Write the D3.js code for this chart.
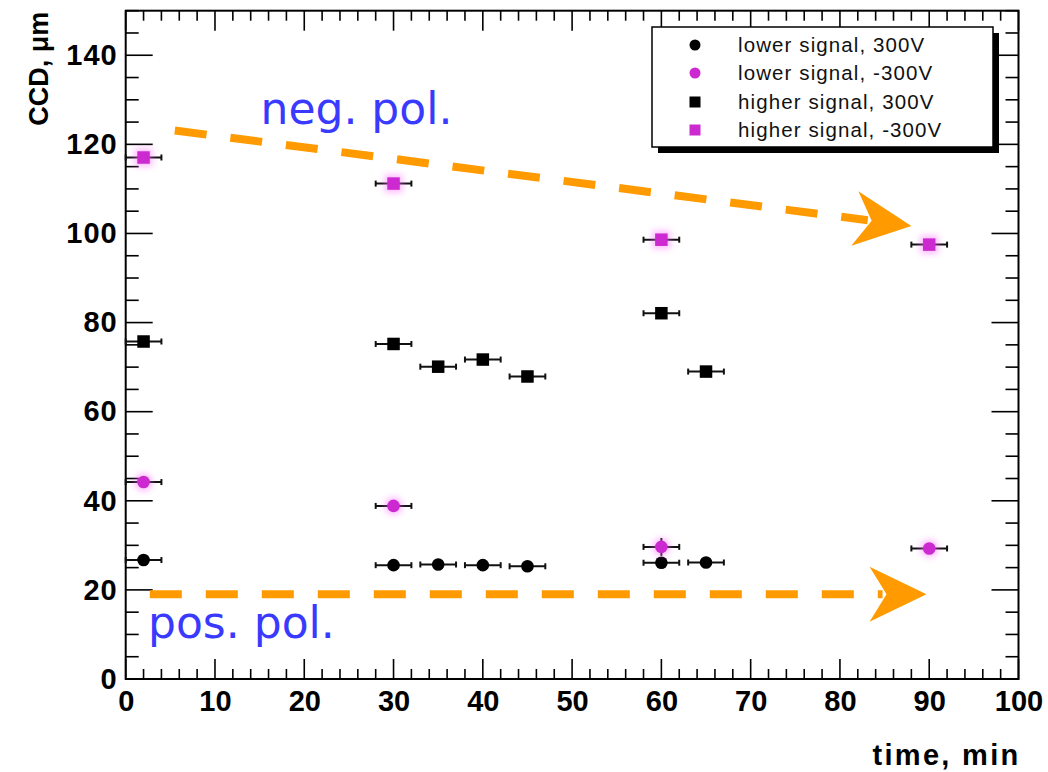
<!DOCTYPE html>
<html><head><meta charset="utf-8">
<script src="https://cdn.jsdelivr.net/npm/d3@7"></script>
<style>
html,body{margin:0;padding:0;background:#fff;}
svg{display:block;}
</style></head>
<body>
<svg id="chart" width="1048" height="772"></svg>
<script>
// ---- data ----
const xTicks = [0,10,20,30,40,50,60,70,80,90,100];
const yTicks = [0,20,40,60,80,100,120,140];
const xLabel = "time, min";
const yLabel = "CCD, \u03bcm";

const timeLow300 = [2,30,35,40,45,60,65];
const ccdLow300  = [26.7,25.55,25.7,25.55,25.3,26.1,26.15];
const timeLowNeg = [2,30,60,90];
const ccdLowNeg  = [44.2,38.85,29.65,29.3];
const yErrLowNeg = [0.5,0.5,2,0.5];
const timeHigh300 = [2,30,35,40,45,60,65];
const ccdHigh300  = [75.75,75.2,70.1,71.7,67.9,82.1,69.0];
const timeHighNeg = [2,30,60,90];
const ccdHighNeg  = [117.05,111.2,98.6,97.5];
const timeErr = 2;

const legendLabels = ["lower signal, 300V","lower signal, -300V","higher signal, 300V","higher signal, -300V"];

// annotations (data units)
const arrowNeg = [[5.5,123.1],[88.0,101.7]];
const arrowPos = [[2.7,19.05],[89.7,19.05]];
const textNeg = {label:"neg. pol.", t:15.1, v:124.6};
const textPos = {label:"pos. pol.", t:2.5, v:9.2};

// ---- layout ----
const svg = d3.select("#chart");
const L = 125.7, R = 1018.5, T = 10.7, B = 679;
const x = d3.scaleLinear().domain([0,100]).range([L,R]);
const y = d3.scaleLinear().domain([0,150]).range([B,T]);
const MAG = "#cc2ad0";
const ORANGE = "#ff9a00";
const BLUE = "#3a3aff";

svg.append("rect").attr("x",L).attr("y",T).attr("width",R-L).attr("height",B-T).attr("fill","#fff");

// ticks
const g = svg.append("g").attr("stroke","#000").attr("stroke-width",1.6);
const xMinor = d3.range(0,101,2).filter(d=>d%10!==0);
const yMinor = d3.range(0,151,5).filter(d=>d%20!==0);
xTicks.forEach(d=>{
  g.append("line").attr("x1",x(d)).attr("x2",x(d)).attr("y1",B).attr("y2",B-20);
  g.append("line").attr("x1",x(d)).attr("x2",x(d)).attr("y1",T).attr("y2",T+20);
});
xMinor.forEach(d=>{
  g.append("line").attr("x1",x(d)).attr("x2",x(d)).attr("y1",B).attr("y2",B-10);
  g.append("line").attr("x1",x(d)).attr("x2",x(d)).attr("y1",T).attr("y2",T+10);
});
yTicks.forEach(d=>{
  g.append("line").attr("y1",y(d)).attr("y2",y(d)).attr("x1",L).attr("x2",L+27);
  g.append("line").attr("y1",y(d)).attr("y2",y(d)).attr("x1",R).attr("x2",R-27);
});
yMinor.forEach(d=>{
  g.append("line").attr("y1",y(d)).attr("y2",y(d)).attr("x1",L).attr("x2",L+13);
  g.append("line").attr("y1",y(d)).attr("y2",y(d)).attr("x1",R).attr("x2",R-13);
});

// tick labels via d3 axes
const xAxis = svg.append("g").attr("transform",`translate(0,${B})`)
  .call(d3.axisBottom(x).tickValues(xTicks).tickSize(0).tickPadding(32).tickFormat(d3.format("d")));
const yAxis = svg.append("g").attr("transform",`translate(${L},0)`)
  .call(d3.axisLeft(y).tickValues(yTicks).tickSize(0).tickPadding(8).tickFormat(d3.format("d")));
[xAxis,yAxis].forEach(a=>{
  a.select(".domain").remove();
  a.selectAll("text").attr("font-family","Liberation Sans, Arial, sans-serif")
   .attr("font-weight","bold").attr("font-size",29).attr("fill","#000");
});
xAxis.selectAll("text").attr("dy",0).attr("y",32);
yAxis.selectAll("text").attr("letter-spacing",1);

// frame
svg.append("rect").attr("x",L).attr("y",T).attr("width",R-L).attr("height",B-T)
  .attr("fill","none").attr("stroke","#000").attr("stroke-width",2);

// axis titles
svg.append("text").attr("x",R+2).attr("y",765).attr("text-anchor","end")
  .attr("font-family","Liberation Sans, Arial, sans-serif").attr("font-weight","bold")
  .attr("font-size",29).attr("letter-spacing",2.3).text(xLabel);
svg.append("text").attr("transform",`translate(48,${T+1}) rotate(-90)`).attr("text-anchor","end")
  .attr("font-family","Liberation Sans, Arial, sans-serif").attr("font-weight","bold")
  .attr("font-size",27).text(yLabel);

// glow filter
const defs = svg.append("defs");
const f = defs.append("filter").attr("id","glow").attr("x","-100%").attr("y","-100%").attr("width","300%").attr("height","300%");
f.append("feGaussianBlur").attr("stdDeviation",3);

// error bars + markers
function errBars(ts, vs, yErrs){
  const eg = svg.append("g").attr("stroke","#111").attr("stroke-width",2);
  ts.forEach((t,i)=>{
    const v = vs[i];
    eg.append("line").attr("x1",x(t-timeErr)).attr("x2",x(t+timeErr)).attr("y1",y(v)).attr("y2",y(v));
    eg.append("line").attr("x1",x(t-timeErr)).attr("x2",x(t-timeErr)).attr("y1",y(v)-3).attr("y2",y(v)+3);
    eg.append("line").attr("x1",x(t+timeErr)).attr("x2",x(t+timeErr)).attr("y1",y(v)-3).attr("y2",y(v)+3);
    const ye = yErrs ? yErrs[i] : 0.5;
    eg.append("line").attr("x1",x(t)).attr("x2",x(t)).attr("y1",y(v-ye)).attr("y2",y(v+ye));
  });
}
function circles(ts, vs, color, glow){
  if(glow){
    svg.append("g").selectAll("circle").data(ts).join("circle")
      .attr("cx",d=>x(d)).attr("cy",(d,i)=>y(vs[i])).attr("r",9)
      .attr("fill","#ff66ff").attr("opacity",0.45).attr("filter","url(#glow)");
  }
  svg.append("g").selectAll("circle").data(ts).join("circle")
    .attr("cx",d=>x(d)).attr("cy",(d,i)=>y(vs[i])).attr("r",6.3).attr("fill",color);
}
function squares(ts, vs, color, glow){
  const s = 12.5;
  if(glow){
    svg.append("g").selectAll("rect").data(ts).join("rect")
      .attr("x",d=>x(d)-9).attr("y",(d,i)=>y(vs[i])-9).attr("width",18).attr("height",18)
      .attr("fill","#ff66ff").attr("opacity",0.45).attr("filter","url(#glow)");
  }
  svg.append("g").selectAll("rect").data(ts).join("rect")
    .attr("x",d=>x(d)-s/2).attr("y",(d,i)=>y(vs[i])-s/2).attr("width",s).attr("height",s).attr("fill",color);
}
errBars(timeLow300, ccdLow300);
errBars(timeLowNeg, ccdLowNeg, yErrLowNeg);
errBars(timeHigh300, ccdHigh300);
errBars(timeHighNeg, ccdHighNeg);
circles(timeLow300, ccdLow300, "#000", false);
circles(timeLowNeg, ccdLowNeg, MAG, true);
squares(timeHigh300, ccdHigh300, "#000", false);
squares(timeHighNeg, ccdHighNeg, MAG, true);

// legend
const lg = svg.append("g");
const lx = 652, ly = 27, lw = 341, lh = 120;
lg.append("rect").attr("x",lx+6).attr("y",ly+6).attr("width",lw).attr("height",lh).attr("fill","#000");
lg.append("rect").attr("x",lx).attr("y",ly).attr("width",lw).attr("height",lh).attr("fill","#fff")
  .attr("stroke","#000").attr("stroke-width",1.5);
const rowY = [45,73,102,130];
legendLabels.forEach((lab,i)=>{
  const cy = rowY[i], cx = 695;
  const col = (i%2===0) ? "#000" : MAG;
  if(i<2){
    lg.append("circle").attr("cx",cx).attr("cy",cy).attr("r",5.5).attr("fill",col);
  } else {
    lg.append("rect").attr("x",cx-5.5).attr("y",cy-5.5).attr("width",11).attr("height",11).attr("fill",col);
  }
  lg.append("text").attr("x",738).attr("y",cy+7).attr("font-family","Liberation Sans, Arial, sans-serif")
    .attr("font-size",20.5).attr("letter-spacing",1.1).attr("fill","#111").text(lab);
});

// annotations
function dashedArrow(pts){
  const [p0,p1] = pts;
  const x0=x(p0[0]), y0=y(p0[1]), x1=x(p1[0]), y1=y(p1[1]);
  const dx=x1-x0, dy=y1-y0, len=Math.hypot(dx,dy), ux=dx/len, uy=dy/len;
  const headLen=57, half=27.5, notch=17;
  const bx=x1-ux*headLen, by=y1-uy*headLen;
  const nx=x1-ux*(headLen-notch), ny=y1-uy*(headLen-notch);
  svg.append("line").attr("x1",x0).attr("y1",y0).attr("x2",nx-ux*4).attr("y2",ny-uy*4)
    .attr("stroke",ORANGE).attr("stroke-width",8).attr("stroke-dasharray","32,24");
  const px=-uy, py=ux;
  svg.append("path").attr("d",`M${x1},${y1} L${bx+px*half},${by+py*half} L${nx},${ny} L${bx-px*half},${by-py*half} Z`)
    .attr("fill",ORANGE);
}
dashedArrow(arrowNeg);
dashedArrow(arrowPos);
[textNeg,textPos].forEach(tx=>{
  svg.append("text").attr("x",x(tx.t)).attr("y",y(tx.v)).attr("font-family","DejaVu Sans, sans-serif")
    .attr("font-size",44).attr("fill",BLUE).text(tx.label);
});
</script>
</body></html>
